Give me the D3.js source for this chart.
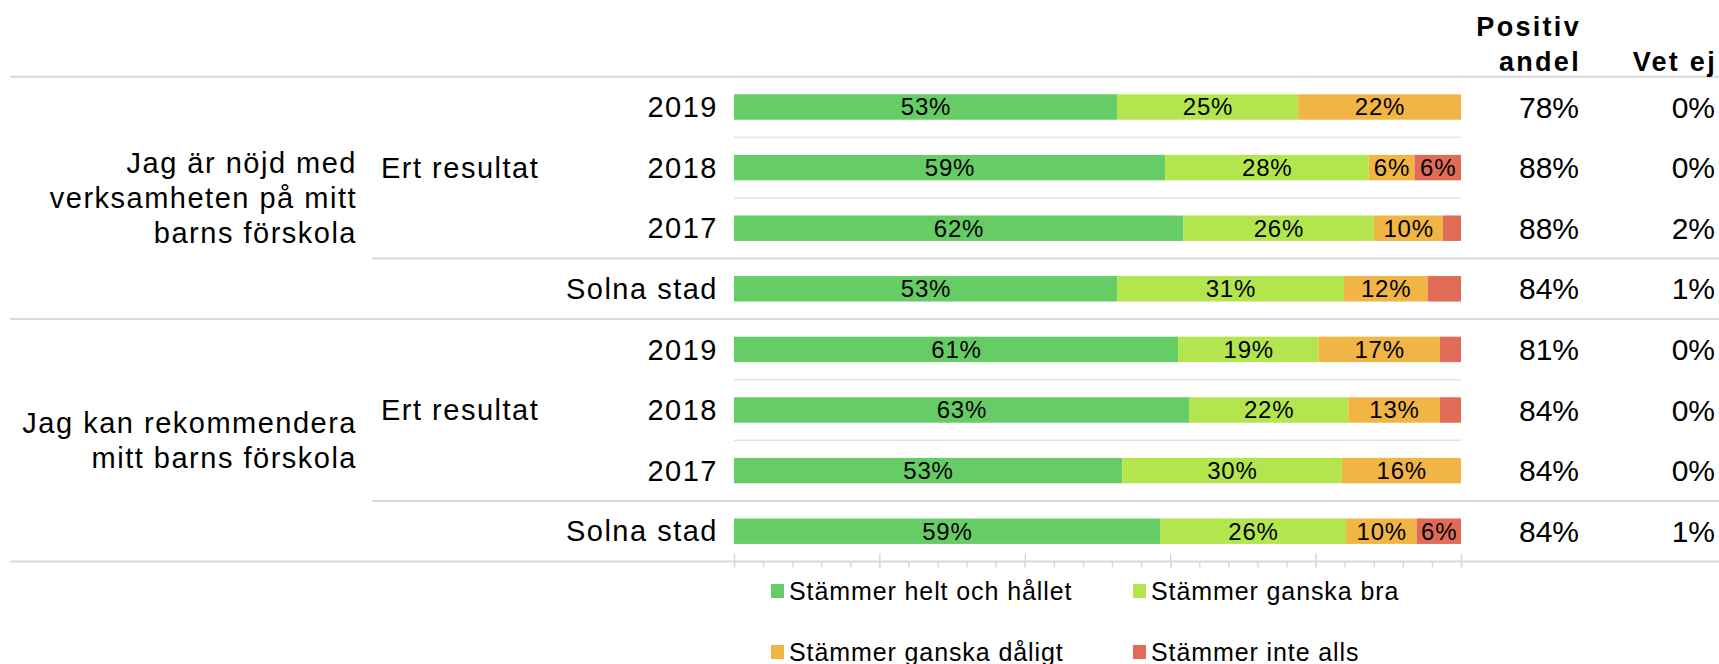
<!DOCTYPE html>
<html>
<head>
<meta charset="utf-8">
<script src="https://cdn.jsdelivr.net/npm/d3@7"></script>
<style>
  body { margin: 0; background: #fff; }
  text { font-family: "Liberation Sans", Arial, sans-serif; fill: #000; }
</style>
</head>
<body>
<div id="chart"></div>
<script>
const WIDTH = 1719, HEIGHT = 664;

// questions (line broken) and row labels
const questions = [
    ["Jag är nöjd med", "verksamheten på mitt", "barns förskola"],
    ["Jag kan rekommendera", "mitt barns förskola"]
];
const rowLabels = ["2019", "2018", "2017", "Solna stad", "2019", "2018", "2017", "Solna stad"];
const categories = ["Stämmer helt och hållet", "Stämmer ganska bra", "Stämmer ganska dåligt", "Stämmer inte alls"];
const colors = ["#66cc66", "#b3e64e", "#f0b545", "#e06c57"];

// series values (% of answers)
const heltOchHallet = [52.7, 59.3, 61.8, 52.7, 61.1, 62.6, 53.4, 58.6];
const ganskaBra     = [24.9, 28.0, 26.2, 31.2, 19.3, 21.9, 30.2, 25.6];
const ganskaDaligt  = [22.4,  6.3,  9.5, 11.5, 16.7, 12.6, 16.4,  9.7];
const inteAlls      = [ 0.0,  6.4,  2.5,  4.6,  2.9,  2.9,  0.0,  6.1];
const positivAndel  = ["78%", "88%", "88%", "84%", "81%", "84%", "84%", "84%"];
const vetEj         = ["0%", "0%", "2%", "1%", "0%", "0%", "0%", "1%"];

const series = [heltOchHallet, ganskaBra, ganskaDaligt, inteAlls];
const rows = rowLabels.map((label, i) => {
    let x0 = 0;
    return {
        i, label,
        segs: series.map((s, k) => {
            const seg = { k, x0, x1: x0 + s[i], v: s[i] };
            x0 += s[i];
            return seg;
        })
    };
});

const svg = d3.select("#chart").append("svg")
    .attr("width", WIDTH)
    .attr("height", HEIGHT);

const TOP = 76.7, BOTTOM = 561.5;
const y = d3.scaleBand()
    .domain(d3.range(rows.length))
    .range([TOP, BOTTOM])
    .paddingInner(0.58)
    .paddingOuter(0.29);
const step = y.step();
const rowCenter = i => y(i) + y.bandwidth() / 2;

const x = d3.scaleLinear().domain([0, 100]).range([734, 1461]);

const LINE = "#d9d9d9";
const THIN = "#e3e3e3";

// horizontal rules
const hline = (x1, x2, yy, color, w) => svg.append("line")
    .attr("x1", x1).attr("x2", x2).attr("y1", yy).attr("y2", yy)
    .attr("stroke", color).attr("stroke-width", w);

hline(10, WIDTH, TOP, LINE, 2);
[0, 4].forEach(start => {
    [1, 2].forEach(j => hline(x(0), x(100), TOP + (start + j) * step, THIN, 1.5));
    hline(372, WIDTH, TOP + (start + 3) * step, LINE, 2);
});
hline(10, WIDTH, TOP + 4 * step, LINE, 2);
hline(10, WIDTH, BOTTOM, LINE, 2);

// axis ticks under the bars
const minorAxis = svg.append("g")
    .attr("transform", `translate(0, ${BOTTOM})`)
    .call(d3.axisBottom(x).tickValues(d3.range(0, 101, 4)).tickSize(6).tickFormat(""));
const majorAxis = svg.append("g")
    .attr("transform", `translate(0, ${BOTTOM - 8})`)
    .call(d3.axisBottom(x).tickValues(d3.range(0, 101, 20)).tickSize(14).tickFormat(""));
[minorAxis, majorAxis].forEach(a => {
    a.select(".domain").remove();
    a.selectAll(".tick line").attr("stroke", LINE).attr("stroke-width", 1.5);
});

// bars
const rowG = svg.selectAll("g.row")
    .data(rows)
    .join("g")
    .attr("class", "row");

rowG.selectAll("rect")
    .data(d => d.segs.filter(s => s.v > 0).map(s => ({ ...s, i: d.i })))
    .join("rect")
    .attr("x", d => x(d.x0))
    .attr("width", d => x(d.x1) - x(d.x0))
    .attr("y", d => y(d.i))
    .attr("height", y.bandwidth())
    .attr("fill", d => colors[d.k]);

rowG.selectAll("text.val")
    .data(d => d.segs.filter(s => s.v >= 5).map(s => ({ ...s, i: d.i })))
    .join("text")
    .attr("class", "val")
    .attr("x", d => (x(d.x0) + x(d.x1)) / 2 + 0.4)
    .attr("y", d => rowCenter(d.i))
    .attr("dy", "0.35em")
    .attr("text-anchor", "middle")
    .style("font-size", "24px")
    .style("letter-spacing", "0.8px")
    .text(d => Math.round(d.v) + "%");

// row labels
svg.selectAll("text.rowlabel")
    .data(rows)
    .join("text")
    .attr("class", "rowlabel")
    .attr("x", 718)
    .attr("y", d => rowCenter(d.i))
    .attr("dy", "0.35em")
    .attr("text-anchor", "end")
    .style("font-size", "29px")
    .style("letter-spacing", "1.5px")
    .text(d => d.label);

// "Ert resultat" and question labels
[0, 4].forEach((start, q) => {
    svg.append("text")
        .attr("x", 381)
        .attr("y", rowCenter(start + 1))
        .attr("dy", "0.35em")
        .style("font-size", "29px")
        .style("letter-spacing", "1.5px")
        .text("Ert resultat");

    const mid = (rowCenter(start) + rowCenter(start + 3)) / 2;
    const lines = questions[q];
    const lh = 35;
    svg.append("text")
        .attr("text-anchor", "end")
        .style("font-size", "29px")
        .style("letter-spacing", "1.5px")
        .selectAll("tspan")
        .data(lines)
        .join("tspan")
        .attr("x", 357)
        .attr("y", (d, j) => mid + (j - (lines.length - 1) / 2) * lh)
        .attr("dy", "0.35em")
        .text(d => d);
});

// right columns
const col = (vals, xr) => svg.selectAll(null)
    .data(vals)
    .join("text")
    .attr("x", xr)
    .attr("y", (d, i) => rowCenter(i))
    .attr("dy", "0.35em")
    .attr("text-anchor", "end")
    .style("font-size", "30px")
    .text(d => d);
col(positivAndel, 1579);
col(vetEj, 1715);

// headers
const header = (txt, xr, yb) => svg.append("text")
    .attr("x", xr).attr("y", yb)
    .attr("text-anchor", "end")
    .style("font-size", "27px")
    .style("font-weight", "bold")
    .style("letter-spacing", "2.3px")
    .text(txt);
header("Positiv", 1581, 36);
header("andel", 1581, 70.5);
header("Vet ej", 1717, 70.5);

// legend
const legend = svg.selectAll("g.legend")
    .data(categories)
    .join("g")
    .attr("class", "legend")
    .attr("transform", (d, i) => `translate(${771 + (i % 2) * 362}, ${591 + Math.floor(i / 2) * 61})`);
legend.append("rect")
    .attr("x", 0).attr("y", -7)
    .attr("width", 13).attr("height", 14)
    .attr("fill", (d, i) => colors[i]);
legend.append("text")
    .attr("x", 18)
    .attr("dy", "0.35em")
    .style("font-size", "25px")
    .style("letter-spacing", "0.9px")
    .text(d => d);
</script>
</body>
</html>
